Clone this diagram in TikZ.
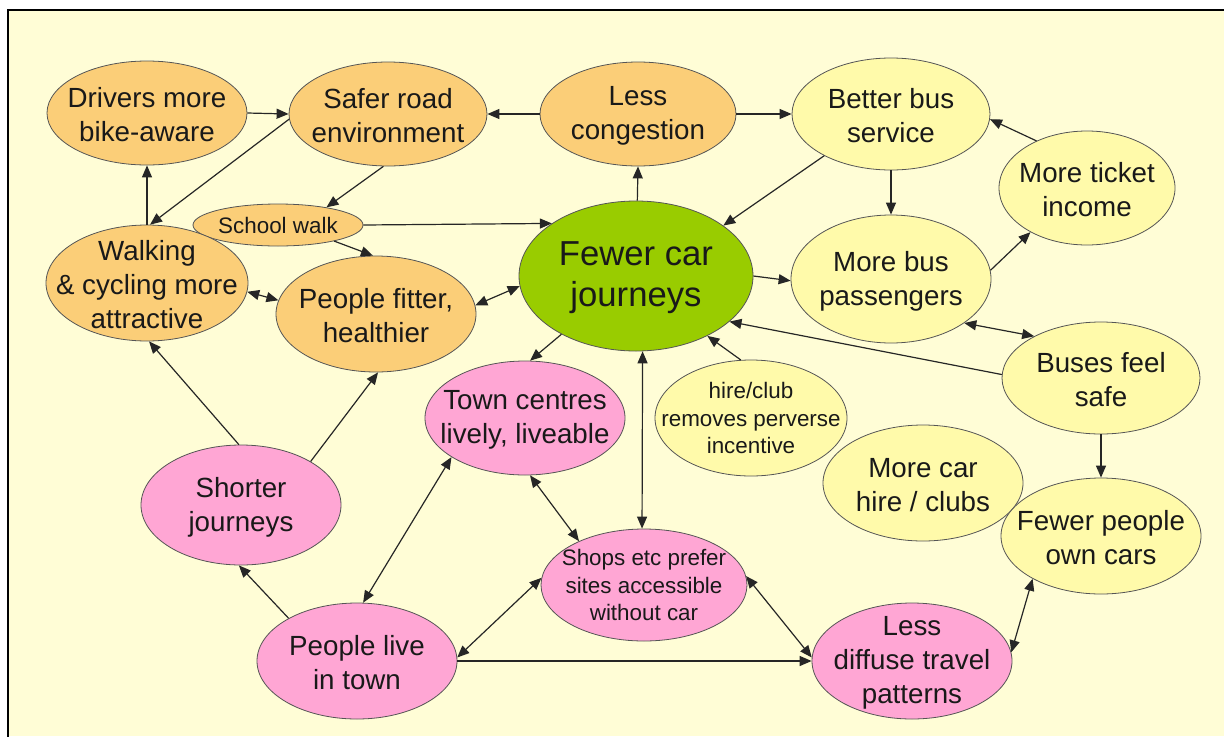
\documentclass[tikz,border=0pt]{standalone}
\usepackage{fontspec}
\setmainfont{Liberation Sans}
\usetikzlibrary{shapes.geometric,arrows.meta}
\definecolor{bgc}{HTML}{FFFDD6}
\definecolor{orc}{HTML}{FBCE78}
\definecolor{yec}{HTML}{FFFAAA}
\definecolor{pkc}{HTML}{FFA6D4}
\definecolor{grc}{HTML}{99CC00}
\definecolor{edc}{HTML}{555555}
\begin{document}
\begin{tikzpicture}[x=0.75pt,y=-0.75pt,
  ell/.style={ellipse, draw=edc, line width=0.6pt, inner sep=0pt},
  wh/.style 2 args={minimum width=#1*0.75pt, minimum height=#2*0.75pt},
  txt/.style={label={[align=center, inner sep=0pt, yshift=-1.5pt, text=black!90, font=\fontsize{20.8}{25.5}\selectfont]center:#1}},
  stxt/.style={label={[align=center, inner sep=0pt, text=black!90, font=\fontsize{16.8}{20.8}\selectfont]center:#1}},
  btxt/.style={label={[align=center, inner sep=0pt, yshift=-1pt, text=black!90, font=\fontsize{26}{30.75}\selectfont]center:#1}},
  org/.style={fill=orc}, yel/.style={fill=yec}, pnk/.style={fill=pkc}, grn/.style={fill=grc},
  arr/.style={-{Triangle[length=9pt,width=7.5pt]}, line width=0.9pt, black!85},
  darr/.style={{Triangle[length=9pt,width=7.5pt]}-{Triangle[length=9pt,width=7.5pt]}, line width=0.9pt, black!85}
]
\useasboundingbox (0,0) rectangle (1224,736);
\fill[white] (0,0) rectangle (1224,736);
\fill[bgc] (8,10) rectangle (1224,736);
\draw[line width=1.5pt] (8,740) -- (8,10) -- (1230,10);

% nodes
\node[ell, org, wh={200}{104}, txt={Drivers more\\bike-aware}] (drv) at (147,113) {};
\node[ell, org, wh={198}{104}, txt={Safer road\\environment}] (saf) at (388,114) {};
\node[ell, org, wh={196}{104}, txt={Less\\congestion}] (cong) at (638,114) {};
\node[ell, yel, wh={198}{112}, txt={Better bus\\service}] (bus) at (891,114) {};
\node[ell, yel, wh={176}{114}, txt={More ticket\\income}] (tic) at (1087,188) {};
\node[ell, org, wh={170}{42}, stxt={School walk}] (sw) at (278,225) {};
\node[ell, org, wh={202}{116}, txt={Walking\\\& cycling more\\attractive}] (walk) at (147,283) {};
\node[ell, org, wh={200}{116}, txt={People fitter,\\healthier}] (fit) at (376,314) {};
\node[ell, grn, wh={234}{150}, btxt={Fewer car\\journeys}] (few) at (636,276) {};
\node[ell, yel, wh={200}{128}, txt={More bus\\passengers}] (pas) at (891,279) {};
\node[ell, yel, wh={198}{112}, txt={Buses feel\\safe}] (safe) at (1101,378) {};
\node[ell, yel, wh={192}{116}, stxt={hire/club\\removes perverse\\incentive}] (hire) at (751,418) {};
\node[ell, yel, wh={200}{116}, txt={More car\\hire / clubs}] (car) at (923,483) {};
\node[ell, yel, wh={200}{116}, txt={Fewer people\\own cars}] (own) at (1101,536) {};
\node[ell, pnk, wh={200}{114}, txt={Town centres\\lively, liveable}] (town) at (525,418) {};
\node[ell, pnk, wh={200}{120}, txt={Shorter\\journeys}] (short) at (241,505) {};
\node[ell, pnk, wh={206}{112}, stxt={Shops etc prefer\\sites accessible\\without car}] (shop) at (644,585) {};
\node[ell, pnk, wh={200}{116}, txt={People live\\in town}] (live) at (357,661) {};
\node[ell, pnk, wh={200}{116}, txt={Less\\diffuse travel\\patterns}] (dif) at (912,661) {};

% connectors
\draw[arr] (drv.east) -- (saf.west);
\draw[arr] (saf.183) -- (walk.87);
\draw[arr] (walk.north) -- (drv.south);
\draw[arr] (cong.west) -- (saf.east);
\draw[arr] (cong.east) -- (bus.west);
\draw[arr] (few.89) -- (cong.south);
\draw[arr] (saf.265) -- (sw.20);
\draw[arr] (sw.east) -- (few.148);
\draw[arr] (sw.-16) -- (fit.93);
\draw[darr] (walk.-5) -- (fit.172);
\draw[darr] (fit.5) -- (few.185);
\draw[arr] (bus.212) -- (few.30);
\draw[arr] (bus.south) -- (pas.north);
\draw[arr] (few.east) -- (pas.181);
\draw[arr] (pas.5) -- (tic.218);
\draw[arr] (tic.137) -- (bus.-3);
\draw[darr] (pas.-31) -- (safe.148);
\draw[arr] (safe.178) -- (few.-26);
\draw[arr] (hire.100) -- (few.-40);
\draw[arr] (safe.south) -- (own.north);
\draw[darr] (dif.5) -- (own.212);
\draw[arr] (few.218) -- (town.85);
\draw[darr] (few.-85) -- (shop.92);
\draw[darr] (town.-85) -- (shop.146);
\draw[darr] (shop.5) -- (dif.178);
\draw[darr] (live.2) -- (shop.176);
\draw[arr] (live.east) -- (dif.west);
\draw[darr] (live.84) -- (town.208);
\draw[arr] (live.148) -- (short.268);
\draw[arr] (short.92) -- (walk.-88);
\draw[arr] (short.32) -- (fit.-88);
\end{tikzpicture}
\end{document}
